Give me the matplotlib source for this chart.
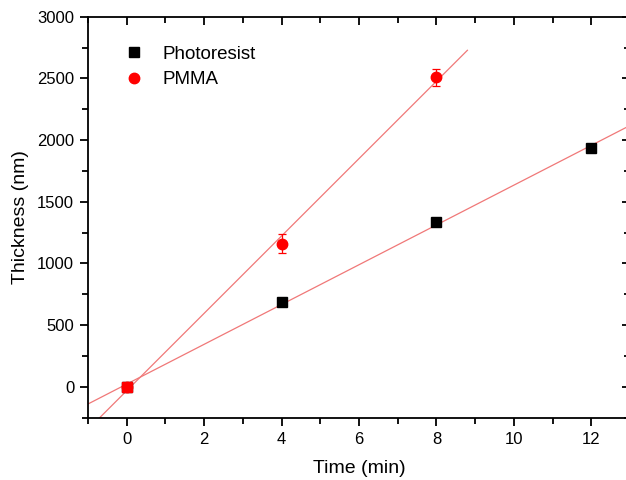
import numpy as np
import matplotlib.pyplot as plt
from matplotlib.ticker import MultipleLocator

plt.rcParams['font.family'] = ['Liberation Sans', 'DejaVu Sans']

# данные
t_photo = [0, 4, 8, 12]
h_photo = [0, 687, 1340, 1932]
t_pmma = [0, 4, 8]
h_pmma = [0, 1161, 2508]
err_pmma = [0, 76, 68]

fig = plt.figure(figsize=(6.26, 4.8), dpi=100)
ax = fig.add_axes([0.1406, 0.1298, 0.8658, 0.8354])

# линейные аппроксимации
fit_color = '#f07878'
k1, b1 = np.polyfit(t_photo, h_photo, 1)
xx1 = np.array([-1, 13])
ax.plot(xx1, k1 * xx1 + b1, color=fit_color, lw=0.9, zorder=1)
k2, b2 = np.polyfit(t_pmma, h_pmma, 1)
xx2 = np.array([-1, 8.8])
ax.plot(xx2, k2 * xx2 + b2, color=fit_color, lw=0.9, zorder=1)

ax.errorbar(t_pmma, h_pmma, yerr=err_pmma, fmt='none', ecolor='red',
            elinewidth=0.9, capsize=3, capthick=0.9, zorder=2)
ax.plot(t_photo, h_photo, 's', color='black', ms=6.5, label='Photoresist', zorder=3)
ax.plot(t_pmma, h_pmma, 'o', color='red', ms=7.5, label='PMMA', zorder=3)
# точка в начале координат поверх
ax.plot(t_photo[0], h_photo[0], 's', color='red', ms=7, zorder=4)

ax.set_xlim(-1, 13)
ax.set_ylim(-250, 3000)
ax.xaxis.set_major_locator(MultipleLocator(2))
ax.xaxis.set_minor_locator(MultipleLocator(1))
ax.yaxis.set_major_locator(MultipleLocator(500))
ax.yaxis.set_minor_locator(MultipleLocator(250))
ax.tick_params(which='both', direction='out', width=1.3, labelsize=12)
ax.tick_params(which='major', length=6, pad=4)
ax.tick_params(which='minor', length=4)
ax.tick_params(which='both', top=True, right=True)

# верхние и правые засечки внутрь
for t in ax.xaxis.get_major_ticks() + ax.xaxis.get_minor_ticks():
    t.tick2line.set_marker(3)
for t in ax.yaxis.get_major_ticks() + ax.yaxis.get_minor_ticks():
    t.tick2line.set_marker(0)

for s in ax.spines.values():
    s.set_linewidth(1.3)

ax.set_xlabel('Time (min)', fontsize=14, labelpad=10)
ax.set_ylabel('Thickness (nm)', fontsize=14, labelpad=6)
ax.legend(loc='upper left', frameon=False, fontsize=13.5, bbox_to_anchor=(0.02, 0.97),
          handletextpad=0.5, labelspacing=0.45)

plt.savefig('out.png', dpi=100)
